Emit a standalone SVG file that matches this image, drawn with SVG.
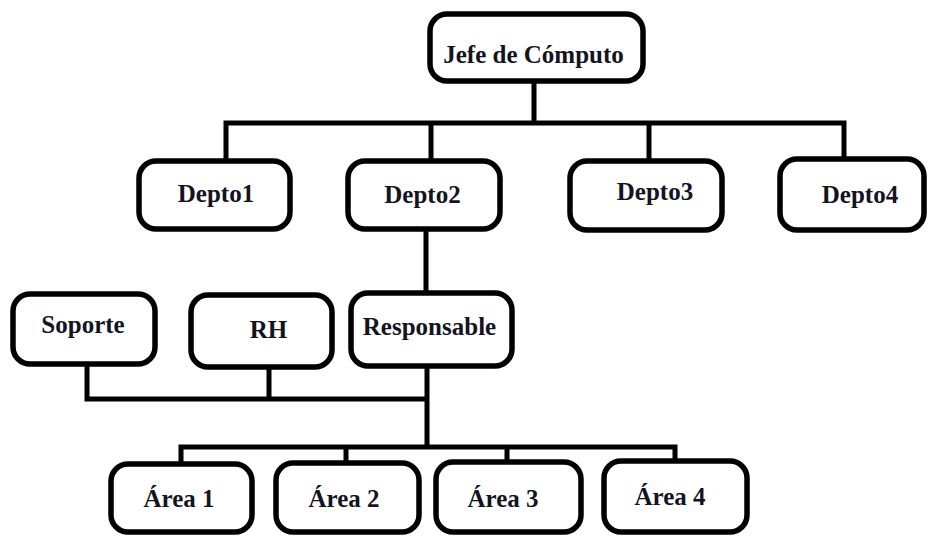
<svg xmlns="http://www.w3.org/2000/svg" width="929" height="538" viewBox="0 0 929 538">
  <style>
    .box { fill: #ffffff; stroke: #000000; stroke-width: 5.5; }
    .lbl { font-family: "Liberation Serif", "Times New Roman", serif; font-weight: bold; font-size: 25px; fill: #14141f; text-anchor: middle; }
    .wire { fill: none; stroke: #000000; stroke-width: 5; stroke-linecap: butt; stroke-linejoin: miter; }
  </style>
  <rect width="929" height="538" fill="#ffffff"/>

  <!-- connectors -->
  <g id="connectors">
    <!-- head to departments -->
    <path class="wire" d="M534 81 V123"/>
    <path class="wire" d="M226 161 V123 H844 V159"/>
    <path class="wire" d="M431 123 V161"/>
    <path class="wire" d="M649 123 V161"/>
    <!-- Depto2 to Responsable -->
    <path class="wire" d="M426 229 V293"/>
    <!-- support staff joined to the responsible line -->
    <path class="wire" d="M87 364 V399 H427"/>
    <path class="wire" d="M269 367 V399"/>
    <path class="wire" d="M427 366 V447"/>
    <!-- areas -->
    <path class="wire" d="M181 464 V447 H675 V459"/>
    <path class="wire" d="M346 447 V463"/>
    <path class="wire" d="M507 447 V462"/>
  </g>

  <g id="jefe">
    <rect class="box" x="430" y="14" width="213" height="67" rx="17"/>
    <text class="lbl" x="533.5" y="63">Jefe de Cómputo</text>
  </g>

  <g id="depto1">
    <rect class="box" x="139" y="161" width="151" height="68" rx="17"/>
    <text class="lbl" x="216" y="202">Depto1</text>
  </g>
  <g id="depto2">
    <rect class="box" x="348" y="161" width="152" height="68" rx="17"/>
    <text class="lbl" x="422.5" y="203">Depto2</text>
  </g>
  <g id="depto3">
    <rect class="box" x="570" y="161" width="152" height="69" rx="17"/>
    <text class="lbl" x="655" y="200">Depto3</text>
  </g>
  <g id="depto4">
    <rect class="box" x="780" y="159" width="144" height="71" rx="17"/>
    <text class="lbl" x="860" y="203">Depto4</text>
  </g>

  <g id="soporte">
    <rect class="box" x="13" y="294" width="142" height="70" rx="17"/>
    <text class="lbl" x="83" y="333">Soporte</text>
  </g>
  <g id="rh">
    <rect class="box" x="191" y="295" width="141" height="72" rx="17"/>
    <text class="lbl" x="268.5" y="338">RH</text>
  </g>
  <g id="responsable">
    <rect class="box" x="351" y="293" width="161" height="73" rx="17"/>
    <text class="lbl" x="429.5" y="335">Responsable</text>
  </g>

  <g id="area1">
    <rect class="box" x="111" y="464" width="141" height="68" rx="17"/>
    <text class="lbl" x="179" y="507">Área 1</text>
  </g>
  <g id="area2">
    <rect class="box" x="276" y="463" width="143" height="69" rx="17"/>
    <text class="lbl" x="344" y="507">Área 2</text>
  </g>
  <g id="area3">
    <rect class="box" x="436" y="462" width="145" height="70" rx="17"/>
    <text class="lbl" x="503" y="507">Área 3</text>
  </g>
  <g id="area4">
    <rect class="box" x="604" y="461" width="143" height="71" rx="17"/>
    <text class="lbl" x="670" y="505">Área 4</text>
  </g>
</svg>
